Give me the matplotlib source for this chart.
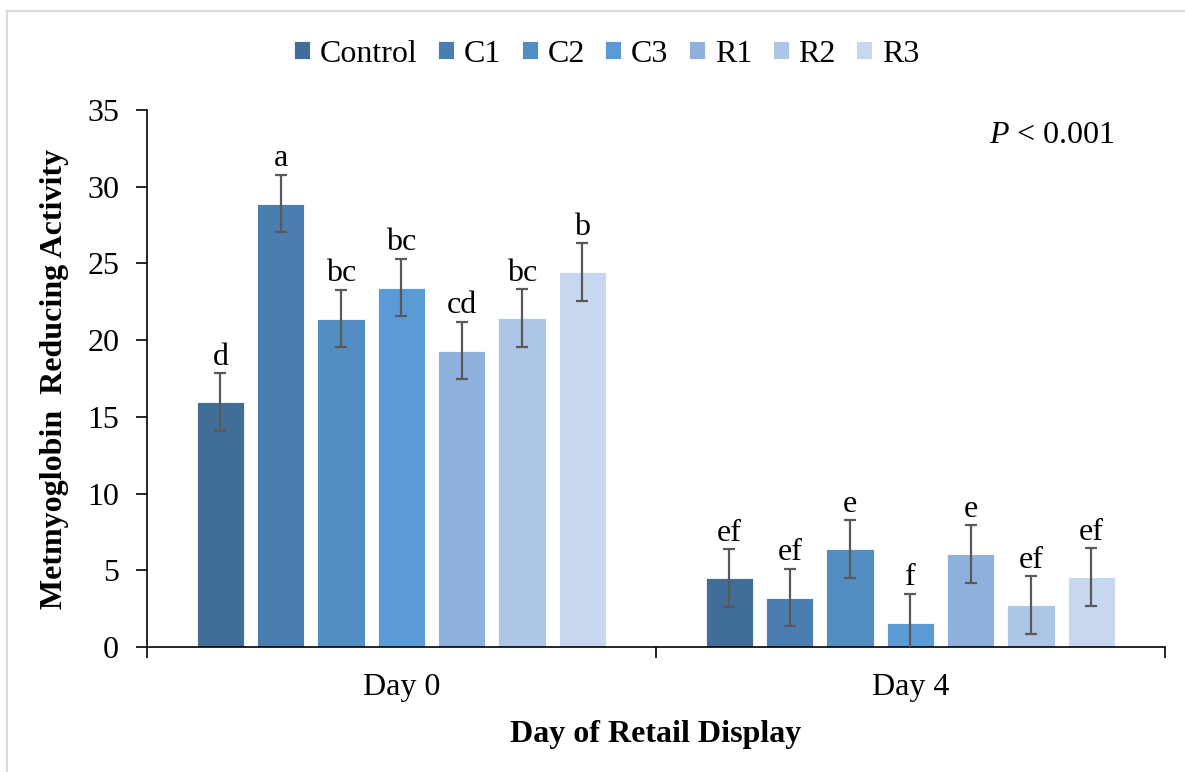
#!/usr/bin/env python3
"""
Metmyoglobin reducing activity by treatment, day 0 and day 4 of retail display.
"""

import numpy as np
import matplotlib
matplotlib.use('Agg')
import matplotlib.pyplot as plt
from matplotlib.lines import Line2D

plt.rcParams['font.family'] = ['Liberation Serif', 'DejaVu Serif']
plt.rcParams['mathtext.fontset'] = 'custom'
plt.rcParams['mathtext.it'] = 'Liberation Serif:italic'
plt.rcParams['mathtext.rm'] = 'Liberation Serif'

days = ['Day 0', 'Day 4']
treatments = ['Control', 'C1', 'C2', 'C3', 'R1', 'R2', 'R3']
colors = ['#416E99', '#4A7DB0', '#538EC3', '#5B9BD5', '#8DB1DC', '#ADC6E5', '#C6D7EE']

# mean values per treatment: [Day 0, Day 4]
control = [15.95, 4.50]
c1 = [28.90, 3.22]
c2 = [21.40, 6.37]
c3 = [23.42, 1.57]
r1 = [19.32, 6.04]
r2 = [21.42, 2.72]
r3 = [24.42, 4.56]
sem = 1.88

letters_day0 = ['d', 'a', 'bc', 'bc', 'cd', 'bc', 'b']
letters_day4 = ['ef', 'ef', 'e', 'f', 'e', 'ef', 'ef']

values = [control, c1, c2, c3, r1, r2, r3]
letters = [letters_day0, letters_day4]

fs = 23

fig = plt.figure(figsize=(11.85, 7.72), dpi=100)
ax = fig.add_axes([0.124, 0.162, 0.859, 0.6955])

slot = 0.1185
width = 0.093
centers = np.array([0.5, 1.5])

for i, (name, vals) in enumerate(zip(treatments, values)):
    x = centers + (i - 3) * slot
    ax.bar(x, vals, width, color=colors[i], edgecolor='white', linewidth=0.6, label=name, zorder=2)
    ax.errorbar(x, vals, yerr=sem, fmt='none', ecolor='#595959', elinewidth=1.6,
                capsize=4.5, capthick=1.6, zorder=3)
    for j in range(len(days)):
        ax.text(x[j], vals[j] + sem + 0.1, letters[j][i], ha='center', va='bottom',
                fontsize=fs)

ax.set_xlim(0, 2)
ax.set_ylim(0, 35)
ax.set_yticks(np.arange(0, 36, 5))
ax.set_xticks([0, 1, 2])
ax.set_xticklabels([])
ax.set_xticks(centers, minor=True)
ax.set_xticklabels(days, minor=True)
ax.tick_params(axis='x', which='major', direction='out', length=8, width=1.2)
ax.tick_params(axis='x', which='minor', length=0, pad=19, labelsize=fs)
ax.tick_params(axis='y', direction='out', length=8, width=1.2, labelsize=fs, pad=12)

for side in ['top', 'right']:
    ax.spines[side].set_visible(False)
ax.spines['left'].set_linewidth(1.2)
ax.spines['bottom'].set_linewidth(1.2)

ax.set_ylabel('Metmyoglobin  Reducing Activity', fontsize=fs, fontweight='bold', labelpad=13)
ax.set_xlabel('Day of Retail Display', fontsize=fs, fontweight='bold', labelpad=13)

ax.text(0.951, 0.98, r'$P$ < 0.001', transform=ax.transAxes, ha='right', va='top', fontsize=fs)

handles, labels = ax.get_legend_handles_labels()
fig.legend(handles, labels, loc='center', bbox_to_anchor=(0.512, 0.93), ncol=7, frameon=False,
           fontsize=fs, handlelength=0.5, handleheight=0.5, handletextpad=0.3,
           columnspacing=0.65)

# outer chart border (top and left edges visible)
fig.add_artist(Line2D([7 / 1185, 1], [1 - 11 / 772, 1 - 11 / 772], color='#D9D9D9', linewidth=1.5))
fig.add_artist(Line2D([7 / 1185, 7 / 1185], [0, 1 - 11 / 772], color='#D9D9D9', linewidth=1.5))

plt.savefig('out.png', dpi=100)
